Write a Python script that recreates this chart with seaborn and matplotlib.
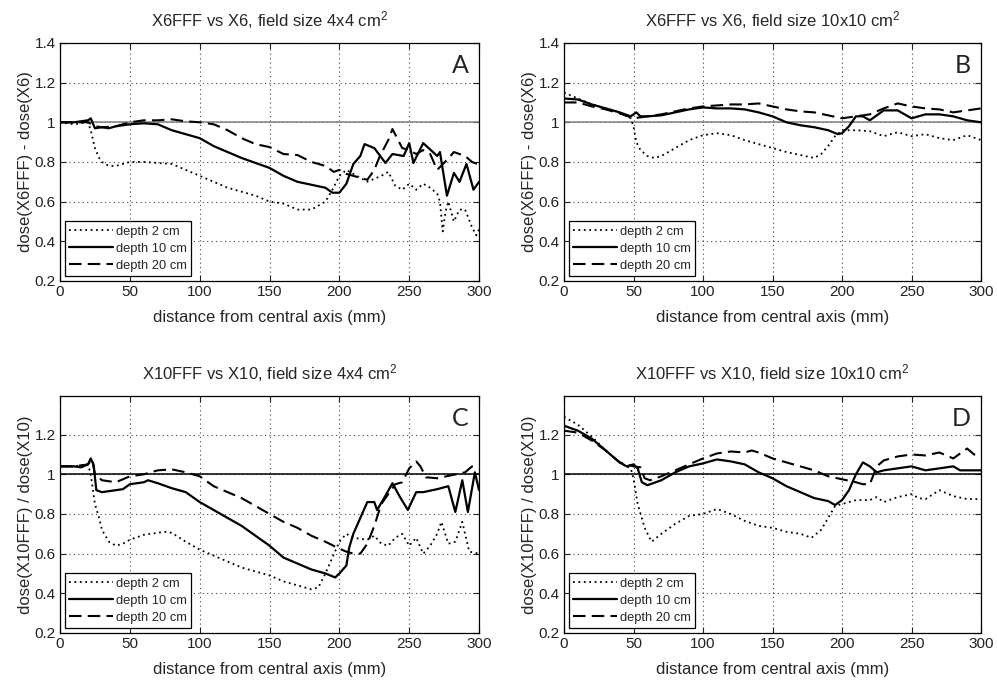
import matplotlib
matplotlib.use("Agg")
import matplotlib.pyplot as plt
import seaborn as sns

# ---------------- data ----------------
# Panel A: X6FFF vs X6, 4x4
xA_d2 = [0, 10, 20, 22, 25, 28, 30, 35, 40, 50, 60, 70, 80, 90, 100, 110, 120, 130, 140, 150, 160, 170, 180, 190, 195, 200, 205, 210, 220, 230, 235, 240, 245, 250, 255, 260, 265, 270, 272, 274, 276, 278, 282, 286, 290, 295, 298, 300]
yA_d2 = [1.0, 0.99, 1.0, 0.96, 0.87, 0.82, 0.80, 0.78, 0.78, 0.80, 0.80, 0.795, 0.79, 0.76, 0.73, 0.70, 0.67, 0.65, 0.63, 0.60, 0.59, 0.56, 0.56, 0.60, 0.66, 0.73, 0.76, 0.74, 0.70, 0.73, 0.75, 0.68, 0.66, 0.69, 0.66, 0.69, 0.67, 0.64, 0.60, 0.45, 0.55, 0.60, 0.50, 0.56, 0.56, 0.47, 0.43, 0.46]
xA_d10 = [0, 10, 20, 22, 25, 30, 35, 40, 50, 60, 70, 80, 90, 100, 110, 120, 130, 140, 150, 160, 170, 180, 190, 195, 200, 205, 210, 215, 218, 225, 233, 238, 246, 250, 253, 260, 267, 270, 272, 277, 282, 286, 291, 296, 300]
yA_d10 = [1.0, 1.0, 1.01, 1.02, 0.97, 0.975, 0.97, 0.98, 0.99, 0.995, 0.99, 0.96, 0.94, 0.92, 0.88, 0.85, 0.82, 0.795, 0.77, 0.73, 0.70, 0.685, 0.67, 0.645, 0.645, 0.69, 0.79, 0.83, 0.89, 0.87, 0.795, 0.84, 0.83, 0.895, 0.795, 0.895, 0.85, 0.83, 0.85, 0.63, 0.745, 0.70, 0.79, 0.66, 0.70]
xA_d20 = [0, 10, 20, 25, 30, 40, 50, 60, 70, 80, 90, 100, 110, 120, 130, 140, 150, 160, 170, 180, 190, 196, 200, 205, 210, 220, 225, 229, 235, 238, 245, 250, 255, 260, 265, 270, 277, 282, 290, 295, 300]
yA_d20 = [1.0, 1.0, 1.0, 0.98, 0.975, 0.98, 1.0, 1.01, 1.01, 1.015, 1.005, 1.0, 0.99, 0.96, 0.92, 0.89, 0.875, 0.84, 0.835, 0.80, 0.78, 0.75, 0.76, 0.74, 0.73, 0.71, 0.76, 0.83, 0.91, 0.966, 0.87, 0.86, 0.84, 0.86, 0.84, 0.76, 0.81, 0.85, 0.83, 0.80, 0.786]

# Panel B: X6FFF vs X6, 10x10
xB_d2 = [0, 10, 20, 30, 40, 48, 50, 52, 55, 60, 65, 70, 80, 90, 100, 110, 120, 130, 140, 150, 160, 170, 180, 185, 190, 195, 200, 210, 220, 230, 240, 250, 260, 270, 280, 290, 300]
yB_d2 = [1.15, 1.12, 1.09, 1.07, 1.05, 1.02, 0.98, 0.90, 0.86, 0.83, 0.82, 0.83, 0.87, 0.91, 0.935, 0.945, 0.935, 0.91, 0.89, 0.87, 0.85, 0.835, 0.82, 0.84, 0.88, 0.93, 0.96, 0.96, 0.955, 0.93, 0.95, 0.93, 0.94, 0.92, 0.91, 0.935, 0.91]
xB_d10 = [0, 10, 20, 30, 40, 48, 52, 55, 60, 70, 80, 90, 100, 110, 120, 130, 140, 150, 160, 170, 180, 190, 197, 200, 205, 210, 215, 220, 230, 240, 250, 260, 270, 280, 290, 300]
yB_d10 = [1.12, 1.115, 1.09, 1.07, 1.05, 1.03, 1.05, 1.03, 1.03, 1.035, 1.05, 1.065, 1.075, 1.07, 1.07, 1.065, 1.05, 1.03, 1.0, 0.985, 0.975, 0.96, 0.94, 0.945, 0.98, 1.03, 1.03, 1.01, 1.06, 1.06, 1.02, 1.04, 1.04, 1.03, 1.01, 1.0]
xB_d20 = [0, 10, 20, 30, 40, 50, 55, 60, 70, 80, 90, 100, 110, 120, 130, 140, 150, 160, 170, 180, 190, 200, 210, 220, 230, 240, 250, 260, 270, 280, 290, 300]
yB_d20 = [1.10, 1.10, 1.08, 1.065, 1.045, 1.02, 1.025, 1.03, 1.04, 1.055, 1.07, 1.08, 1.085, 1.09, 1.09, 1.095, 1.08, 1.065, 1.055, 1.05, 1.035, 1.02, 1.03, 1.04, 1.07, 1.095, 1.08, 1.07, 1.065, 1.05, 1.06, 1.07]

# Panel C: X10FFF vs X10, 4x4
xC_d2 = [0, 10, 20, 22, 25, 28, 30, 35, 40, 45, 50, 60, 70, 75, 80, 90, 100, 110, 120, 130, 140, 150, 160, 170, 180, 185, 190, 195, 200, 205, 210, 220, 225, 230, 235, 240, 245, 250, 255, 260, 265, 270, 273, 278, 283, 288, 293, 300]
yC_d2 = [1.04, 1.04, 1.05, 1.0, 0.85, 0.78, 0.72, 0.66, 0.64, 0.65, 0.67, 0.695, 0.705, 0.71, 0.705, 0.66, 0.62, 0.59, 0.56, 0.53, 0.51, 0.49, 0.46, 0.44, 0.42, 0.43, 0.50, 0.58, 0.66, 0.70, 0.68, 0.67, 0.69, 0.65, 0.64, 0.68, 0.70, 0.64, 0.68, 0.60, 0.64, 0.70, 0.76, 0.65, 0.66, 0.76, 0.61, 0.60]
xC_d10 = [0, 10, 15, 20, 22, 24, 26, 30, 40, 45, 50, 60, 63, 70, 80, 90, 100, 110, 120, 130, 140, 150, 160, 170, 180, 190, 197, 200, 205, 207, 210, 215, 220, 225, 227, 232, 238, 243, 249, 255, 260, 270, 278, 283, 288, 292, 297, 300]
yC_d10 = [1.04, 1.04, 1.035, 1.05, 1.08, 1.05, 0.92, 0.91, 0.92, 0.925, 0.95, 0.96, 0.97, 0.955, 0.93, 0.91, 0.86, 0.82, 0.78, 0.74, 0.69, 0.64, 0.58, 0.55, 0.52, 0.50, 0.48, 0.50, 0.54, 0.63, 0.70, 0.78, 0.86, 0.86, 0.82, 0.88, 0.955, 0.89, 0.82, 0.91, 0.91, 0.925, 0.94, 0.81, 0.97, 0.81, 1.01, 0.92]
xC_d20 = [0, 10, 20, 23, 25, 30, 40, 50, 60, 70, 80, 90, 100, 110, 120, 130, 140, 150, 160, 170, 180, 190, 200, 205, 210, 215, 220, 225, 230, 235, 240, 245, 250, 255, 258, 262, 270, 280, 290, 295, 300]
yC_d20 = [1.04, 1.04, 1.05, 1.075, 1.0, 0.97, 0.96, 0.99, 1.0, 1.02, 1.025, 1.01, 0.99, 0.94, 0.91, 0.88, 0.84, 0.80, 0.76, 0.73, 0.69, 0.66, 0.625, 0.61, 0.60, 0.60, 0.65, 0.74, 0.85, 0.90, 0.95, 0.96, 1.03, 1.065, 1.04, 0.985, 0.98, 0.995, 1.01, 1.04, 1.04]

# Panel D: X10FFF vs X10, 10x10
xD_d2 = [0, 10, 20, 30, 40, 48, 50, 53, 58, 63, 70, 80, 90, 100, 110, 120, 130, 140, 150, 160, 170, 178, 185, 190, 195, 200, 210, 220, 225, 230, 240, 250, 255, 260, 270, 280, 290, 300]
yD_d2 = [1.29, 1.25, 1.19, 1.12, 1.06, 1.03, 0.98, 0.85, 0.73, 0.66, 0.70, 0.75, 0.79, 0.80, 0.825, 0.80, 0.765, 0.74, 0.73, 0.71, 0.70, 0.68, 0.72, 0.78, 0.84, 0.85, 0.87, 0.87, 0.885, 0.86, 0.885, 0.90, 0.88, 0.875, 0.92, 0.89, 0.875, 0.875]
xD_d10 = [0, 10, 20, 30, 40, 45, 50, 53, 56, 60, 70, 80, 90, 100, 110, 120, 130, 140, 150, 160, 170, 180, 190, 195, 200, 205, 210, 215, 220, 225, 230, 240, 250, 260, 270, 280, 285, 300]
yD_d10 = [1.245, 1.22, 1.18, 1.12, 1.06, 1.04, 1.05, 1.03, 0.96, 0.945, 0.97, 1.01, 1.04, 1.055, 1.075, 1.065, 1.05, 1.01, 0.98, 0.94, 0.91, 0.88, 0.865, 0.845, 0.87, 0.92, 1.0, 1.06, 1.04, 1.01, 1.02, 1.03, 1.04, 1.02, 1.03, 1.04, 1.02, 1.02]
xD_d20 = [0, 10, 20, 30, 40, 50, 55, 58, 62, 70, 80, 90, 100, 110, 120, 130, 135, 140, 150, 160, 170, 180, 190, 200, 210, 215, 220, 225, 230, 240, 250, 260, 270, 280, 290, 295, 300]
yD_d20 = [1.22, 1.21, 1.17, 1.12, 1.06, 1.04, 1.035, 0.98, 0.97, 0.99, 1.02, 1.05, 1.08, 1.105, 1.115, 1.11, 1.12, 1.11, 1.08, 1.06, 1.04, 1.02, 0.99, 0.975, 0.96, 0.95, 0.95, 1.04, 1.07, 1.09, 1.10, 1.095, 1.11, 1.08, 1.13, 1.10, 1.09]

titles = ["X6FFF vs X6, field size 4x4 cm$^2$",
          "X6FFF vs X6, field size 10x10 cm$^2$",
          "X10FFF vs X10, field size 4x4 cm$^2$",
          "X10FFF vs X10, field size 10x10 cm$^2$"]
ylabels = ["dose(X6FFF) - dose(X6)", "dose(X6FFF) - dose(X6)",
           "dose(X10FFF) / dose(X10)", "dose(X10FFF) / dose(X10)"]
letters = ["A", "B", "C", "D"]
series_labels = ["depth 2 cm", "depth 10 cm", "depth 20 cm"]
x_ticks = [0, 50, 100, 150, 200, 250, 300]
y_ticks_top = [0.2, 0.4, 0.6, 0.8, 1.0, 1.2, 1.4]
y_ticks_bot = [0.2, 0.4, 0.6, 0.8, 1.0, 1.2]
y_ticklabels_top = ["0.2", "0.4", "0.6", "0.8", "1", "1.2", "1.4"]
y_ticklabels_bot = ["0.2", "0.4", "0.6", "0.8", "1", "1.2"]

panels = [
    [(xA_d2, yA_d2), (xA_d10, yA_d10), (xA_d20, yA_d20)],
    [(xB_d2, yB_d2), (xB_d10, yB_d10), (xB_d20, yB_d20)],
    [(xC_d2, yC_d2), (xC_d10, yC_d10), (xC_d20, yC_d20)],
    [(xD_d2, yD_d2), (xD_d10, yD_d10), (xD_d20, yD_d20)],
]

# ---------------- style ----------------
sns.set_style("white")
plt.rcParams["font.family"] = ["Liberation Sans", "DejaVu Sans"]
plt.rcParams["mathtext.default"] = "regular"

fig = plt.figure(figsize=(9.97, 6.86), dpi=100)
positions = [
    [0.0602, 0.5904, 0.4203, 0.347],
    [0.5657, 0.5904, 0.4183, 0.347],
    [0.0602, 0.0773, 0.4203, 0.3455],
    [0.5657, 0.0773, 0.4183, 0.3455],
]
styles = [
    dict(linestyle=(0, (1, 2)), linewidth=1.3),
    dict(linestyle="-", linewidth=1.6),
    dict(linestyle=(0, (6, 3)), linewidth=1.5),
]

for i, pos in enumerate(positions):
    ax = fig.add_axes(pos)
    top = i < 2
    for (xs, ys), lab, st in zip(panels[i], series_labels, styles):
        sns.lineplot(x=xs, y=ys, ax=ax, color="black", label=lab, **st)
    ax.axhline(1.0, color="#808080" if top else "black", linewidth=1.1, zorder=1)
    ax.set_xlim(0, 300)
    if top:
        ax.set_ylim(0.2, 1.4)
        ax.set_yticks(y_ticks_top)
        ax.set_yticklabels(y_ticklabels_top)
    else:
        ax.set_ylim(0.2, 1.395)
        ax.set_yticks(y_ticks_bot)
        ax.set_yticklabels(y_ticklabels_bot)
    ax.set_xticks(x_ticks)
    ax.grid(True, linestyle=(0, (1, 3)), color="#444444", linewidth=0.8)
    ax.tick_params(direction="in", length=4, labelsize=11, colors="#222222",
                   top=True, right=True, bottom=True, left=True, pad=3)
    for sp in ax.spines.values():
        sp.set_color("black")
        sp.set_linewidth(0.9)
    ax.set_xlabel("distance from central axis (mm)", fontsize=12, labelpad=8)
    ax.set_ylabel(ylabels[i], fontsize=12, labelpad=1)
    ax.set_title(titles[i], fontsize=12, pad=12)
    ax.text(0.975, 0.955, letters[i], transform=ax.transAxes, ha="right", va="top",
            fontsize=18, family=["Lato", "DejaVu Sans"])
    leg = ax.legend(loc="lower left", fontsize=9.3, frameon=True, fancybox=False,
                    edgecolor="black", framealpha=1, handlelength=3.4,
                    borderpad=0.35, labelspacing=0.4, handletextpad=0.2,
                    borderaxespad=0.35)
    leg.get_frame().set_linewidth(0.9)

fig.savefig("out.png", dpi=100)
